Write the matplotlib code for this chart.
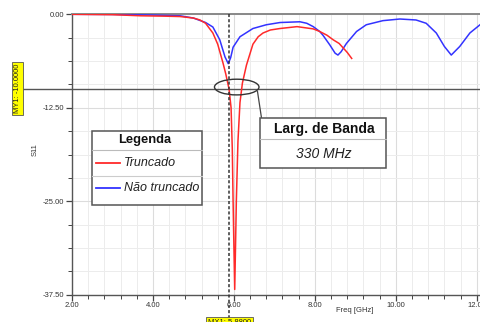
import matplotlib
matplotlib.use('Agg')
import matplotlib.pyplot as plt
from matplotlib.patches import Ellipse, Rectangle
from matplotlib.lines import Line2D

plt.rcParams['font.family'] = ['Liberation Sans', 'DejaVu Sans']
plt.rcParams['axes.unicode_minus'] = False

# ---- data ----
freq_trunc = [2.0, 3.0, 3.7, 4.3, 4.67, 5.0, 5.16, 5.3, 5.48, 5.6, 5.73, 5.80, 5.88,
              5.93, 5.96, 5.98, 6.00, 6.02, 6.04, 6.06, 6.10, 6.15, 6.21, 6.31, 6.47,
              6.60, 6.72, 6.90, 7.14, 7.56, 7.96, 8.12, 8.30, 8.45, 8.60, 8.70, 8.80, 8.91]
s11_trunc = [0.0, -0.05, -0.2, -0.25, -0.3, -0.5, -0.76, -1.2, -2.5, -4.0, -6.5, -8.0, -10.0,
             -12.5, -18.0, -25.0, -31.0, -36.8, -31.0, -25.0, -17.0, -11.8, -9.2, -6.8, -4.0,
             -3.0, -2.5, -2.1, -1.9, -1.65, -1.95, -2.3, -2.8, -3.4, -3.9, -4.5, -5.1, -5.9]

freq_full = [2.0, 3.0, 4.0, 4.67, 5.0, 5.3, 5.48, 5.65, 5.78, 5.86, 5.92, 5.98, 6.15, 6.47,
             6.80, 7.14, 7.63, 7.80, 7.96, 8.12, 8.20, 8.37, 8.50, 8.57, 8.65, 8.78, 9.03,
             9.27, 9.68, 10.1, 10.5, 10.75, 11.0, 11.2, 11.37, 11.58, 11.83, 12.08]
s11_full = [0.0, -0.02, -0.1, -0.2, -0.5, -1.1, -1.7, -3.4, -5.7, -6.6, -5.8, -4.4, -3.0, -1.9,
            -1.4, -1.1, -1.0, -1.2, -1.65, -2.3, -2.8, -4.1, -5.2, -5.45, -5.0, -3.9, -2.3,
            -1.4, -0.85, -0.63, -0.76, -1.2, -2.5, -4.3, -5.45, -4.3, -2.5, -1.4]

series_names = ['Truncado', 'Não truncado']
series_colors = ['#ff2a2a', '#3333ff']
marker_x = 5.88
marker_y = -10.0
x_ticks = [2, 4, 6, 8, 10, 12]
y_ticks = [0.0, -12.5, -25.0, -37.5]

W, H = 481, 322
fig = plt.figure(figsize=(W / 100, H / 100), dpi=100)


def fx(px):
    return px / W


def fy(py):
    return 1 - py / H


ax = fig.add_axes([fx(72), fy(294.7), fx(480) - fx(72), fy(14.3) - fy(294.7)])
ax.set_xlim(2, 12.08)
ax.set_ylim(-37.5, 0)

ax.set_xticks(x_ticks)
ax.set_xticklabels(['%.2f' % v for v in x_ticks])
ax.set_yticks(y_ticks)
ax.set_yticklabels(['%.2f' % v for v in y_ticks])
ax.set_xticks([2 + 0.4 * i for i in range(26) if (i % 5) != 0], minor=True)
ax.set_yticks([-3.125 * i for i in range(13) if (i % 4) != 0], minor=True)

ax.grid(True, which='major', color='#dcdcdc', lw=0.8)
ax.grid(True, which='minor', color='#ececec', lw=0.7)
ax.set_axisbelow(True)

ax.tick_params(which='both', direction='out', colors='#444', labelcolor='#333',
               labelsize=5.5, pad=1.5)
ax.tick_params(which='major', length=4, width=0.9)
ax.tick_params(which='minor', length=3, width=0.7)

ax.spines['right'].set_visible(False)
ax.spines['left'].set_color('#555')
ax.spines['bottom'].set_color('#555')
ax.spines['top'].set_color('#888')
ax.spines['top'].set_linewidth(1.4)
ax.spines['left'].set_linewidth(1.0)
ax.spines['bottom'].set_linewidth(1.0)

ax.plot(freq_full, s11_full, color=series_colors[1], lw=1.1, zorder=3)
ax.plot(freq_trunc, s11_trunc, color=series_colors[0], lw=1.1, zorder=3)

# marker lines
ax.plot([marker_x, marker_x], [0, -40.6], color='#333', lw=1.1,
        ls=(0, (2, 1.4)), clip_on=False, zorder=4)
ax.plot([0.79, 12.08], [marker_y, marker_y], color='#555', lw=1.0,
        clip_on=False, zorder=2)

# ellipse around the -10 dB crossing
ell = Ellipse((6.07, -9.73), 1.10, 2.1, fill=False, ec='#333', lw=1.0, zorder=5)
ax.add_patch(ell)

# axis labels
fig.text(fx(35), fy(150), 'S11', rotation=90, ha='center', va='center',
         fontsize=5.5, color='#333')
fig.text(fx(355), fy(311), 'Freq [GHz]', ha='center', va='center',
         fontsize=5.5, color='#333')

# marker labels (yellow)
fig.text(fx(17.3), fy(88.4), 'MY1: -10.0000', rotation=90, ha='center', va='center',
         fontsize=5.5, color='#222',
         bbox=dict(boxstyle='square,pad=0.25', fc='#ffff00', ec='#555', lw=0.6))
fig.text(fx(229.5), fy(319), 'MX1: 5.8800', ha='center', va='top',
         fontsize=5.5, color='#222',
         bbox=dict(boxstyle='square,pad=0.25', fc='#ffff00', ec='#555', lw=0.6))

# legend box
lx0, lx1, ly0, ly1 = 92, 202, 131, 205
fig.patches.append(Rectangle((fx(lx0), fy(ly1)), fx(lx1) - fx(lx0), fy(ly0) - fy(ly1),
                             transform=fig.transFigure, fc='white', ec='#555', lw=1.1,
                             zorder=6))
fig.lines.append(Line2D([fx(lx0), fx(lx1)], [fy(150), fy(150)],
                        transform=fig.transFigure, color='#bbb', lw=0.8, zorder=7))
fig.lines.append(Line2D([fx(lx0), fx(lx1)], [fy(176), fy(176)],
                        transform=fig.transFigure, color='#ccc', lw=0.8, zorder=7))
fig.text(fx(145), fy(140.5), 'Legenda', ha='center', va='center', fontsize=9.3,
         fontweight='bold', color='#111', zorder=8)
for name, col, yy in zip(series_names, series_colors, [162.7, 188]):
    fig.lines.append(Line2D([fx(96), fx(120)], [fy(yy), fy(yy)],
                            transform=fig.transFigure, color=col, lw=1.3, zorder=8))
    fig.text(fx(124), fy(yy), name, ha='left', va='center', fontsize=9,
             style='italic', color='#222', zorder=8)

# bandwidth annotation box
bx0, bx1, by0, by1 = 260, 386, 118, 168
fig.lines.append(Line2D([fx(257.5), fx(261.5)], [fy(91.5), fy(118)],
                        transform=fig.transFigure, color='#444', lw=0.9, zorder=6))
fig.patches.append(Rectangle((fx(bx0), fy(by1)), fx(bx1) - fx(bx0), fy(by0) - fy(by1),
                             transform=fig.transFigure, fc='white', ec='#555', lw=1.1,
                             zorder=6))
fig.lines.append(Line2D([fx(bx0), fx(bx1)], [fy(139), fy(139)],
                        transform=fig.transFigure, color='#bbb', lw=0.8, zorder=7))
fig.text(fx(324), fy(129), 'Larg. de Banda', ha='center', va='center', fontsize=10,
         fontweight='bold', color='#111', zorder=8)
fig.text(fx(324), fy(154), '330 MHz', ha='center', va='center', fontsize=10,
         style='italic', color='#222', zorder=8)

fig.savefig('out.png', dpi=100)
